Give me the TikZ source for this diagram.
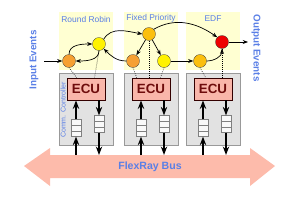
\documentclass[tikz,border=0pt]{standalone}
\usepackage{fontspec}
\setmainfont{Liberation Sans}
\usetikzlibrary{arrows.meta,positioning,calc}
\definecolor{panelyellow}{HTML}{FFFFD2}
\definecolor{labelblue}{HTML}{5A7FE6}
\definecolor{ctrlgray}{HTML}{E2E2E2}
\definecolor{ecupink}{HTML}{F9B6AA}
\definecolor{ecured}{HTML}{6E0C0C}
\definecolor{busred}{HTML}{FDBBAB}
\definecolor{tokorange}{HTML}{F6A033}
\definecolor{tokyellow}{HTML}{FFF200}
\definecolor{tokgold}{HTML}{FBBF0E}
\definecolor{tokred}{HTML}{EE0000}

\begin{document}
\begin{tikzpicture}[
    x=0.5mm, y=-0.5mm,
    panel/.style={fill=panelyellow, minimum width=27mm, minimum height=29mm, inner sep=0},
    ctrl/.style={draw=gray!80, fill=ctrlgray, minimum width=27mm, minimum height=36mm, inner sep=0},
    ecu/.style={draw=black!80!red, line width=1.2pt, fill=ecupink, minimum width=19mm, minimum height=11mm, inner sep=0, text=ecured, font=\fontsize{19}{19}\selectfont\bfseries},
    queue/.style={draw=gray, fill=white!95!gray, minimum width=5mm, minimum height=8.5mm, inner sep=0,
        path picture={\draw[gray] ([yshift=1.42mm]path picture bounding box.west) -- ([yshift=1.42mm]path picture bounding box.east)
            ([yshift=-1.42mm]path picture bounding box.west) -- ([yshift=-1.42mm]path picture bounding box.east);}},
    token/.style={circle, draw=black!80, minimum size=6.5mm, inner sep=0},
    sched/.style={text=labelblue, font=\fontsize{12}{12}\selectfont},
    side/.style={text=labelblue, font=\fontsize{14}{14}\selectfont\bfseries},
    flow/.style={-Stealth, line width=1pt},
    msg/.style={-Stealth, line width=2pt},
    link/.style={dotted, line width=0.9pt}
]
\useasboundingbox (0,0) rectangle (300,200);

% scheduler panels
\node[panel] (rr) at (86,41) {};
\node[panel] (fp) at (151,41) {};
\node[panel] (edf) at (213,41) {};
\node[sched] at (86,19) {Round Robin};
\node[sched] at (151,18) {Fixed Priority};
\node[sched] at (213,19) {EDF};

% controllers
\node[ctrl] (cc1) at (86,109) {};
\node[ctrl] (cc2) at (151,109) {};
\node[ctrl] (cc3) at (213,109) {};
\node[text=labelblue, rotate=90, font=\fontsize{10}{10}\selectfont] at (63,110) {Comm. Controller};

\node[ecu] (ecu1) at (86,89) {ECU};
\node[ecu] (ecu2) at (151,89) {ECU};
\node[ecu] (ecu3) at (213,89) {ECU};

\node[queue] (in1) at (76,128) {};
\node[queue] (out1) at (99,124) {};
\node[queue] (in2) at (141,128) {};
\node[queue] (out2) at (164,124) {};
\node[queue] (in3) at (203,128) {};
\node[queue] (out3) at (226,124) {};

% bus
\fill[busred] (24,166) -- (50,148) -- (50,155) -- (250,155) -- (250,148) -- (275,166)
    -- (250,186) -- (250,178) -- (50,178) -- (50,186) -- cycle;
\node[text=labelblue, font=\fontsize{15}{15}\selectfont\bfseries] (bus) at (150,167) {FlexRay Bus};
\coordinate (b1) at (76,155);
\coordinate (b2) at (99,155);
\coordinate (b3) at (141,155);
\coordinate (b4) at (164,155);
\coordinate (b5) at (203,155);
\coordinate (b6) at (226,155);

\draw[msg] (b1) -- (in1);
\draw[msg] (in1) -- (in1 |- ecu1.south);
\draw[msg] (out1 |- ecu1.south) -- (out1);
\draw[msg] (out1) -- (b2);
\draw[msg] (b3) -- (in2);
\draw[msg] (in2) -- (in2 |- ecu2.south);
\draw[msg] (out2 |- ecu2.south) -- (out2);
\draw[msg] (out2) -- (b4);
\draw[msg] (b5) -- (in3);
\draw[msg] (in3) -- (in3 |- ecu3.south);
\draw[msg] (out3 |- ecu3.south) -- (out3);
\draw[msg] (out3) -- (b6);

% tasks
\node[token, fill=tokorange] (a) at (69,61) {};
\node[token, fill=tokyellow] (b) at (99,44) {};
\node[token, fill=tokorange] (c) at (133,61) {};
\node[token, fill=tokgold] (d) at (149,34) {};
\node[token, fill=tokyellow] (e) at (164,61) {};
\node[token, fill=tokgold] (f) at (200,61) {};
\node[token, fill=tokred] (g) at (222,42) {};

\draw[link] (a.south) -- ($(ecu1.north west)+(10,0)$);
\draw[link] (b.south) -- ($(ecu1.north west)+(28,0)$);
\draw[link] (c.south) -- ($(ecu2.north west)+(5,0)$);
\draw[link] (d.south) -- (d.south |- ecu2.north);
\draw[link] (e.south) -- ($(ecu2.north west)+(29,0)$);
\draw[link] (f.south) -- ($(ecu3.north west)+(12,0)$);
\draw[link] (g.south) -- (g.south |- ecu3.north);

% event flow
\node[side, rotate=90] at (34,60) {Input Events};
\node[side, rotate=-90] at (256,48) {Output Events};
\coordinate (src) at (44,61);
\coordinate (dst) at (248,42);
\draw[flow] (src) -- (a);
\draw[flow] (a.north) to[out=90, in=180] (b.west);
\draw[flow] (b.south) to[out=-90, in=0] (a.east);
\draw[flow] (c.west) to[out=180, in=-45] (b.south east);
\draw[flow] (b.north east) to[out=60, in=170] (d.west);
\draw[flow] (d) -- (c);
\draw[flow] (d) -- (e);
\draw[flow] (d.north east) to[out=30, in=145] (g.north west);
\draw[flow] (e) -- (f);
\draw[flow] (f.east) to[out=0, in=-90] (g.south);
\draw[flow] (g) -- (dst);

\end{tikzpicture}
\end{document}
